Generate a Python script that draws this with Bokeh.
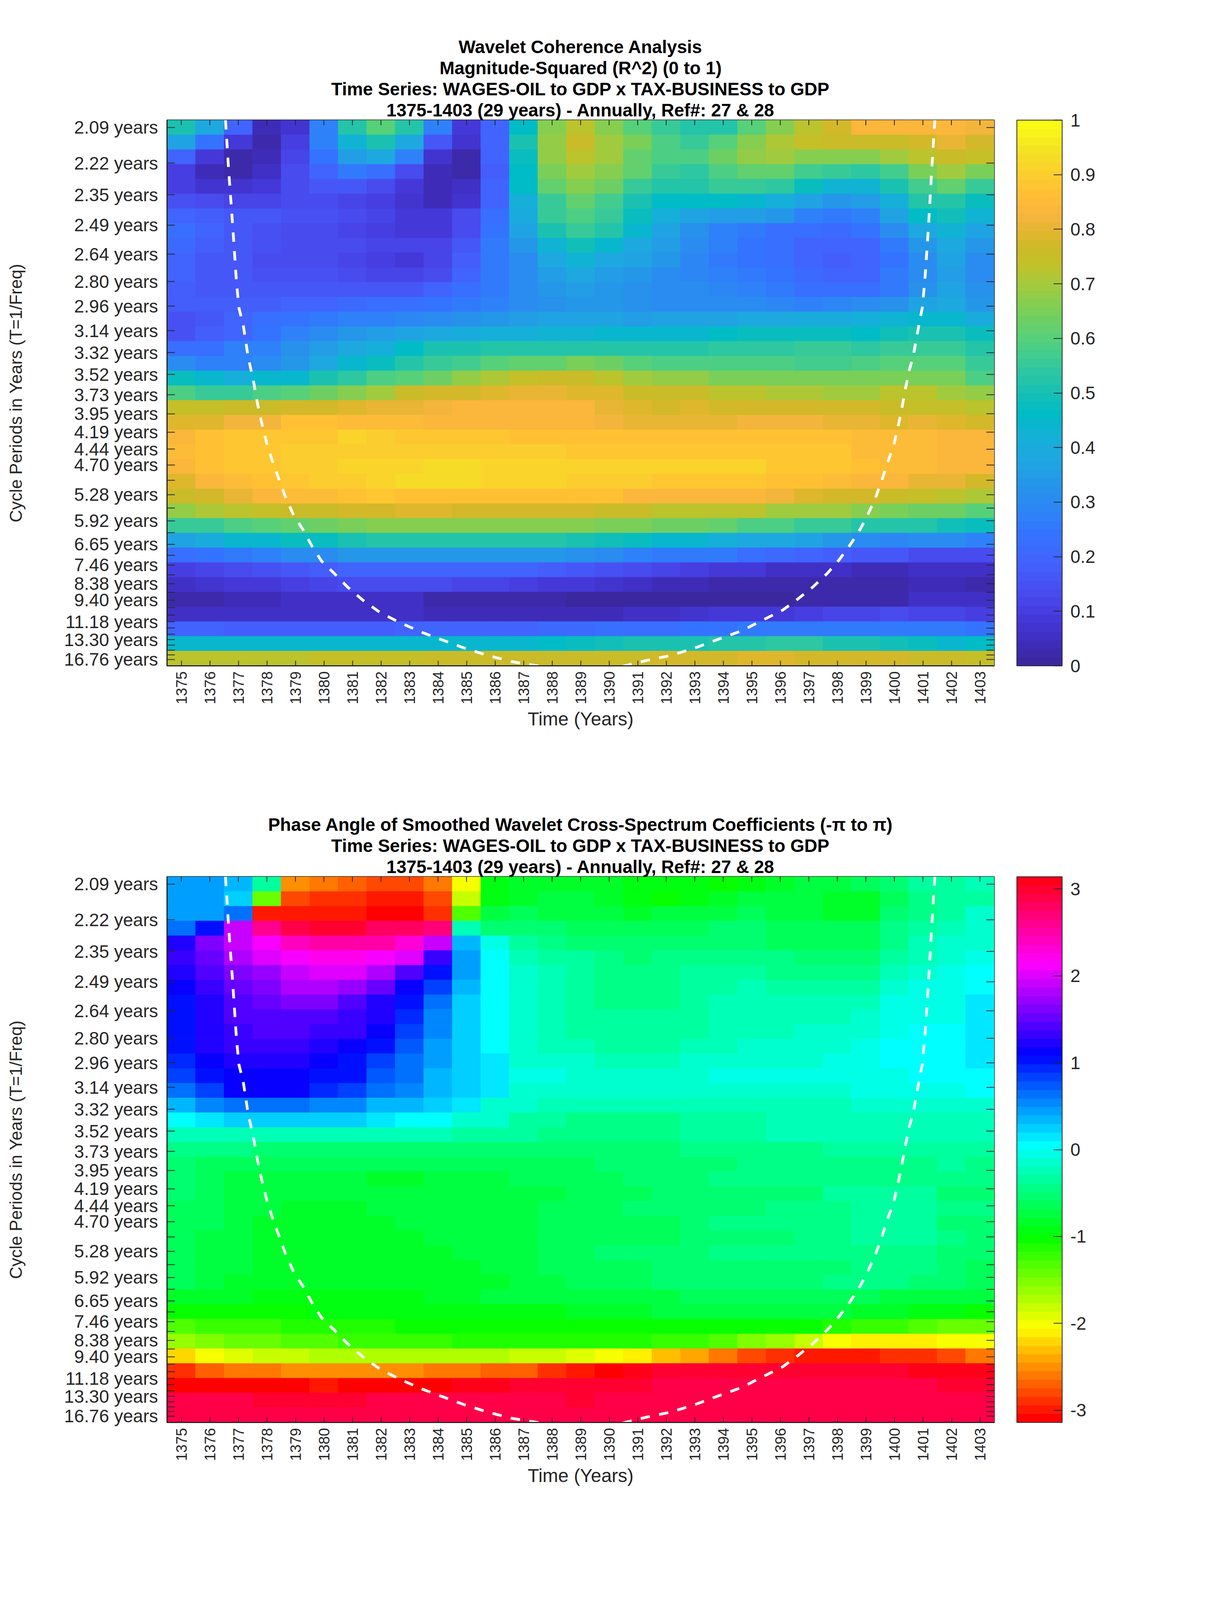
from bokeh.plotting import figure
from bokeh.models import (ColumnDataSource, LinearColorMapper, ColorBar, FixedTicker, Range1d, Title)
from bokeh.layouts import column
from bokeh.transform import transform
from bokeh.embed import file_html
from bokeh.resources import INLINE
import math, colorsys

years = list(range(1375, 1404))
periods = ["2.09","2.22","2.35","2.49","2.64","2.80","2.96","3.14","3.32","3.52","3.73","3.95","4.19","4.44","4.70","4.98","5.28","5.59","5.92","6.27","6.65","7.05","7.46","7.91","8.38","8.88","9.40","9.96","10.56","11.18","11.85","12.55","13.30","14.09","14.93","15.82","16.76"]
unlabelled = {"4.98","5.59","6.27","7.05","7.91","8.88","9.96","10.56","11.85","12.55","14.09","14.93","15.82"}

r2_rows = [
[.5,.38,.2,.04,.07,.27,.52,.6,.52,.27,.09,.2,.46,.66,.72,.67,.6,.55,.52,.53,.6,.66,.73,.78,.83,.84,.84,.83,.82],
[.37,.24,.08,.02,.1,.28,.43,.5,.38,.17,.07,.19,.5,.68,.75,.7,.65,.59,.56,.6,.67,.71,.74,.75,.75,.76,.78,.8,.78],
[.2,.08,.02,.04,.12,.24,.35,.38,.27,.07,.03,.19,.47,.68,.73,.69,.62,.59,.58,.63,.68,.69,.67,.67,.66,.7,.72,.75,.74],
[.1,.04,.02,.05,.14,.2,.25,.22,.14,.04,.03,.18,.46,.65,.69,.66,.61,.56,.54,.58,.62,.62,.57,.55,.54,.57,.65,.69,.65],
[.1,.07,.07,.08,.13,.16,.16,.13,.08,.04,.05,.19,.46,.62,.67,.63,.56,.53,.53,.55,.55,.54,.47,.43,.43,.5,.57,.61,.56],
[.15,.13,.12,.12,.13,.14,.12,.1,.07,.04,.07,.2,.41,.56,.61,.57,.51,.46,.46,.46,.44,.41,.36,.33,.35,.42,.52,.53,.48],
[.2,.18,.16,.16,.15,.15,.13,.11,.08,.08,.13,.22,.4,.55,.59,.55,.48,.41,.36,.35,.35,.33,.28,.25,.28,.36,.46,.49,.43],
[.23,.2,.17,.15,.14,.13,.12,.1,.09,.09,.14,.24,.36,.51,.55,.52,.45,.36,.32,.28,.26,.22,.22,.21,.24,.3,.38,.43,.37],
[.21,.18,.17,.15,.14,.14,.13,.11,.11,.12,.17,.25,.34,.43,.49,.45,.38,.35,.31,.27,.24,.22,.2,.19,.2,.25,.34,.38,.34],
[.19,.17,.16,.14,.14,.13,.12,.1,.09,.11,.18,.25,.3,.38,.43,.39,.37,.33,.29,.26,.24,.22,.19,.18,.2,.24,.31,.36,.31],
[.19,.17,.16,.15,.15,.15,.14,.12,.12,.14,.2,.25,.3,.35,.38,.35,.34,.31,.29,.27,.26,.24,.21,.19,.2,.25,.3,.35,.31],
[.18,.17,.16,.16,.16,.16,.16,.16,.16,.19,.22,.25,.3,.33,.35,.34,.32,.31,.3,.29,.27,.26,.23,.22,.22,.26,.32,.36,.32],
[.18,.18,.18,.18,.19,.2,.21,.22,.22,.24,.26,.28,.3,.32,.33,.33,.32,.31,.31,.3,.3,.29,.28,.29,.3,.32,.36,.38,.34],
[.15,.17,.2,.22,.24,.26,.27,.28,.29,.3,.32,.33,.35,.36,.37,.36,.35,.36,.36,.37,.38,.39,.4,.4,.41,.43,.44,.45,.4],
[.15,.18,.2,.24,.27,.3,.33,.35,.36,.38,.4,.41,.42,.43,.43,.44,.44,.45,.45,.46,.47,.47,.47,.47,.46,.49,.5,.51,.47],
[.22,.23,.27,.28,.32,.35,.38,.42,.46,.5,.51,.52,.52,.52,.52,.52,.52,.53,.53,.54,.54,.54,.55,.55,.54,.55,.56,.55,.52],
[.31,.27,.28,.31,.34,.39,.44,.47,.53,.56,.57,.6,.61,.62,.65,.63,.6,.59,.59,.58,.58,.58,.57,.57,.59,.6,.6,.6,.56],
[.47,.44,.42,.44,.45,.5,.54,.58,.6,.64,.68,.71,.74,.75,.75,.73,.7,.68,.68,.65,.65,.65,.65,.65,.65,.65,.65,.65,.59],
[.58,.56,.56,.59,.6,.64,.67,.7,.75,.77,.78,.79,.81,.81,.79,.79,.76,.75,.75,.73,.73,.71,.71,.7,.7,.72,.72,.7,.68],
[.74,.74,.75,.76,.78,.78,.79,.8,.81,.82,.83,.83,.84,.84,.83,.8,.79,.78,.79,.77,.77,.77,.77,.77,.77,.76,.74,.74,.73],
[.79,.79,.82,.82,.86,.86,.85,.85,.85,.83,.83,.83,.83,.83,.83,.82,.81,.81,.81,.81,.82,.82,.82,.8,.8,.79,.8,.79,.77],
[.84,.86,.88,.88,.89,.89,.91,.9,.89,.89,.89,.88,.87,.87,.87,.87,.87,.87,.87,.87,.87,.87,.87,.87,.85,.85,.85,.83,.83],
[.85,.86,.88,.89,.905,.905,.905,.9,.9,.9,.9,.9,.9,.9,.89,.89,.89,.89,.89,.89,.89,.89,.89,.88,.85,.85,.85,.84,.84],
[.83,.86,.88,.89,.9,.905,.915,.915,.92,.925,.925,.92,.915,.915,.915,.91,.91,.91,.915,.915,.915,.89,.89,.88,.86,.85,.85,.83,.83],
[.79,.83,.85,.87,.88,.9,.905,.915,.925,.93,.925,.91,.91,.91,.9,.9,.9,.89,.89,.89,.89,.87,.86,.85,.84,.84,.81,.8,.77],
[.75,.77,.8,.83,.85,.85,.87,.88,.87,.87,.87,.87,.86,.86,.86,.86,.84,.84,.84,.83,.83,.82,.79,.77,.77,.76,.74,.73,.71],
[.68,.71,.72,.74,.75,.76,.77,.78,.79,.79,.78,.77,.77,.77,.77,.75,.75,.73,.73,.73,.72,.7,.7,.69,.67,.65,.63,.63,.6],
[.56,.55,.58,.6,.62,.63,.65,.66,.67,.67,.67,.67,.67,.67,.66,.65,.65,.64,.63,.61,.58,.58,.56,.55,.53,.53,.52,.49,.47],
[.37,.4,.44,.45,.47,.48,.51,.52,.53,.53,.53,.53,.52,.52,.51,.49,.47,.45,.45,.42,.38,.38,.36,.33,.3,.29,.3,.3,.28],
[.23,.24,.26,.28,.3,.31,.33,.34,.34,.34,.34,.33,.33,.33,.32,.3,.28,.26,.26,.25,.22,.21,.2,.18,.16,.16,.14,.14,.13],
[.1,.12,.14,.15,.17,.18,.19,.2,.2,.2,.2,.2,.2,.18,.16,.15,.14,.11,.1,.09,.08,.06,.06,.05,.04,.04,.05,.05,.05],
[.05,.07,.08,.09,.1,.12,.13,.13,.13,.13,.12,.12,.1,.09,.09,.07,.06,.04,.04,.03,.02,.02,.03,.02,.02,.02,.04,.04,.03],
[.02,.02,.04,.04,.05,.05,.05,.05,.05,.03,.03,.03,.02,.02,.01,.01,.01,.01,.01,.01,.01,.01,.03,.03,.03,.03,.05,.05,.05],
[.05,.05,.05,.05,.05,.06,.06,.06,.06,.04,.04,.04,.04,.04,.04,.04,.05,.06,.07,.08,.08,.09,.1,.11,.12,.13,.12,.11,.1],
[.2,.19,.18,.18,.18,.18,.18,.18,.19,.19,.19,.2,.2,.21,.21,.22,.23,.23,.24,.24,.25,.26,.26,.26,.26,.26,.26,.25,.24],
[.44,.44,.44,.44,.44,.44,.44,.45,.45,.45,.45,.45,.45,.46,.47,.49,.5,.51,.51,.52,.52,.54,.54,.51,.5,.49,.48,.45,.46],
[.72,.73,.73,.73,.73,.74,.74,.74,.74,.75,.76,.76,.76,.76,.76,.76,.76,.77,.77,.78,.79,.79,.78,.78,.78,.78,.76,.75,.74],
]

phase_rows = [
[.4,.4,.3,-.3,-2.46,-2.62,-2.72,-2.83,-2.83,-2.62,-1.97,-.95,-.85,-.85,-.85,-.85,-.9,-.95,-.98,-1.0,-.95,-.8,-.78,-.75,-.62,-.55,-.38,-.3,-.22],
[.4,.4,.2,-1.42,-2.75,-2.88,-2.88,-2.95,-2.95,-2.78,-1.8,-.95,-.85,-.75,-.78,-.85,-.92,-1.0,-.95,-.85,-.75,-.72,-.78,-.85,-.8,-.6,-.42,-.35,-.3],
[.4,.4,.66,-3.02,-3.02,-3.02,-3.02,-3.12,-3.12,-2.93,-1.3,-.78,-.65,-.7,-.72,-.78,-.8,-.78,-.75,-.7,-.6,-.7,-.75,-.8,-.8,-.5,-.4,-.3,-.18],
[.65,1.05,1.87,2.65,2.88,2.95,2.95,2.82,2.82,2.72,-.25,-.5,-.55,-.58,-.6,-.65,-.67,-.65,-.6,-.55,-.55,-.6,-.68,-.68,-.65,-.45,-.35,-.28,-.15],
[1.2,1.6,1.96,2.15,2.4,2.5,2.55,2.55,2.35,1.9,.35,-.05,-.3,-.42,-.55,-.55,-.55,-.55,-.52,-.52,-.5,-.6,-.62,-.65,-.62,-.4,-.25,-.18,-.1],
[1.35,1.55,1.8,2.0,2.1,2.2,2.2,2.15,2.0,1.3,.4,0,-.2,-.3,-.38,-.48,-.5,-.42,-.42,-.42,-.42,-.48,-.52,-.58,-.55,-.36,-.2,-.1,-.02],
[1.25,1.4,1.6,1.75,1.95,2.05,2.05,1.8,1.45,1.0,.45,.02,-.18,-.28,-.35,-.45,-.45,-.4,-.38,-.32,-.3,-.45,-.48,-.45,-.4,-.28,-.1,-.05,0],
[1.15,1.3,1.5,1.65,1.85,1.85,1.7,1.55,1.15,.85,.3,.02,-.15,-.25,-.32,-.42,-.45,-.42,-.38,-.3,-.28,-.35,-.38,-.38,-.3,-.12,-.05,-.03,.08],
[1.05,1.25,1.4,1.55,1.6,1.6,1.45,1.25,1.05,.62,.2,0,-.15,-.22,-.32,-.42,-.45,-.4,-.35,-.28,-.25,-.25,-.25,-.22,-.22,-.08,-.02,-.02,.12],
[1.05,1.25,1.38,1.45,1.45,1.45,1.35,1.2,.95,.55,.2,0,-.15,-.2,-.3,-.38,-.38,-.35,-.32,-.25,-.22,-.22,-.22,-.2,-.15,-.05,-.02,-.02,.12],
[1.05,1.22,1.35,1.42,1.42,1.35,1.3,1.1,.85,.52,.2,0,-.15,-.2,-.3,-.38,-.38,-.35,-.3,-.25,-.2,-.2,-.18,-.15,-.1,-.03,0,0,.12],
[1.02,1.2,1.3,1.35,1.32,1.25,1.15,1.02,.75,.48,.2,0,-.14,-.2,-.28,-.3,-.3,-.3,-.28,-.2,-.18,-.15,-.15,-.14,-.06,0,0,0,.12],
[.95,1.15,1.2,1.2,1.2,1.12,1.05,.85,.68,.45,.27,.12,-.1,-.15,-.18,-.22,-.22,-.22,-.18,-.18,-.18,-.14,-.14,-.08,-.02,0,0,0,.1],
[.8,1.0,1.1,1.1,1.1,1.03,1.03,.75,.62,.38,.28,.1,-.02,-.05,-.15,-.15,-.15,-.15,-.12,-.08,-.08,-.08,-.08,-.06,-.06,-.02,0,0,0],
[.63,.8,1.08,1.08,1.08,.92,.8,.68,.5,.38,.2,.12,-.1,-.12,-.15,-.18,-.18,-.18,-.18,-.12,-.12,-.12,-.12,-.12,-.08,-.08,-.08,-.05,0],
[.35,.5,.62,.68,.68,.58,.5,.38,.3,.22,.12,-.1,-.15,-.2,-.2,-.25,-.28,-.28,-.28,-.25,-.25,-.25,-.25,-.22,-.18,-.12,-.12,-.12,-.1],
[0,.12,.2,.2,.2,.2,.2,.1,0,0,-.1,-.18,-.3,-.38,-.4,-.42,-.42,-.42,-.35,-.32,-.3,-.28,-.28,-.28,-.25,-.25,-.25,-.25,-.22],
[-.2,-.2,-.2,-.22,-.22,-.22,-.22,-.22,-.28,-.28,-.3,-.3,-.35,-.4,-.42,-.42,-.42,-.42,-.38,-.38,-.35,-.28,-.28,-.28,-.28,-.25,-.2,-.2,-.22],
[-.42,-.42,-.45,-.5,-.52,-.5,-.5,-.5,-.5,-.52,-.5,-.5,-.55,-.58,-.58,-.58,-.58,-.55,-.48,-.48,-.45,-.45,-.45,-.35,-.35,-.33,-.33,-.33,-.33],
[-.5,-.6,-.62,-.63,-.65,-.65,-.65,-.65,-.65,-.65,-.65,-.65,-.65,-.65,-.62,-.58,-.55,-.55,-.52,-.5,-.45,-.45,-.42,-.42,-.42,-.42,-.4,-.38,-.4],
[-.55,-.62,-.72,-.75,-.75,-.75,-.78,-.8,-.8,-.78,-.78,-.75,-.68,-.68,-.65,-.62,-.55,-.5,-.5,-.48,-.42,-.42,-.42,-.42,-.42,-.42,-.42,-.42,-.42],
[-.55,-.65,-.7,-.75,-.75,-.78,-.78,-.78,-.78,-.75,-.75,-.75,-.75,-.7,-.62,-.6,-.6,-.52,-.52,-.52,-.52,-.5,-.5,-.38,-.38,-.38,-.36,-.5,-.5],
[-.6,-.68,-.72,-.78,-.82,-.82,-.82,-.78,-.75,-.75,-.75,-.72,-.72,-.65,-.62,-.6,-.55,-.52,-.52,-.5,-.5,-.48,-.48,-.48,-.35,-.35,-.35,-.45,-.48],
[-.62,-.68,-.75,-.8,-.85,-.85,-.85,-.82,-.75,-.72,-.72,-.72,-.72,-.68,-.65,-.62,-.6,-.6,-.52,-.48,-.48,-.48,-.48,-.48,-.38,-.36,-.36,-.5,-.5],
[-.62,-.7,-.75,-.82,-.85,-.85,-.85,-.82,-.8,-.75,-.7,-.72,-.72,-.68,-.62,-.6,-.6,-.6,-.52,-.5,-.5,-.5,-.48,-.48,-.35,-.36,-.36,-.48,-.5],
[-.62,-.7,-.78,-.82,-.85,-.85,-.85,-.85,-.85,-.82,-.72,-.7,-.7,-.65,-.62,-.58,-.58,-.58,-.5,-.48,-.48,-.48,-.48,-.48,-.45,-.45,-.45,-.5,-.52],
[-.6,-.72,-.78,-.82,-.85,-.85,-.85,-.85,-.85,-.82,-.82,-.72,-.72,-.68,-.65,-.62,-.62,-.58,-.58,-.55,-.55,-.55,-.52,-.52,-.48,-.48,-.48,-.5,-.62],
[-.65,-.72,-.82,-.85,-.85,-.85,-.82,-.82,-.85,-.85,-.85,-.82,-.75,-.72,-.68,-.68,-.62,-.58,-.55,-.55,-.55,-.55,-.52,-.48,-.48,-.48,-.5,-.55,-.65],
[-.8,-.85,-.88,-.92,-.92,-.92,-.9,-.9,-.9,-.85,-.82,-.78,-.78,-.78,-.75,-.7,-.7,-.7,-.68,-.65,-.65,-.62,-.62,-.62,-.62,-.7,-.72,-.72,-.75],
[-1.02,-1.02,-1.02,-1.02,-1.0,-.98,-.98,-.98,-.98,-.9,-.9,-.9,-.9,-.9,-.85,-.82,-.8,-.78,-.78,-.78,-.78,-.78,-.78,-.78,-.8,-.85,-.9,-.98,-1.0],
[-1.3,-1.22,-1.22,-1.22,-1.15,-1.12,-1.12,-1.12,-1.05,-1.05,-1.05,-1.05,-1.05,-1.05,-1.05,-1.05,-1.03,-1.03,-1.03,-1.02,-1.03,-1.05,-1.05,-1.12,-1.2,-1.25,-1.35,-1.42,-1.42],
[-1.65,-1.55,-1.45,-1.45,-1.35,-1.35,-1.25,-1.22,-1.22,-1.22,-1.15,-1.15,-1.12,-1.1,-1.1,-1.1,-1.15,-1.2,-1.2,-1.35,-1.5,-1.65,-1.85,-2.0,-2.15,-2.15,-2.15,-2.0,-2.0],
[-2.2,-2.05,-1.92,-1.82,-1.82,-1.72,-1.72,-1.68,-1.68,-1.68,-1.68,-1.68,-1.78,-1.78,-1.9,-2.0,-2.15,-2.35,-2.45,-2.62,-2.75,-2.88,-2.95,-2.95,-2.95,-2.85,-2.85,-2.75,-2.65],
[-2.85,-2.72,-2.6,-2.6,-2.52,-2.52,-2.52,-2.52,-2.52,-2.6,-2.6,-2.7,-2.7,-2.85,-3.0,-3.05,3.14,3.0,3.0,2.95,2.95,2.95,2.95,2.95,2.98,3.02,3.1,3.14,3.14],
[-3.1,-3.1,-3.1,-3.1,-3.1,-3.0,-3.1,-3.12,-3.12,-3.12,3.14,3.05,3.02,3.02,2.95,2.95,2.95,2.85,2.85,2.85,2.85,2.85,2.85,2.85,2.85,2.85,2.9,2.95,2.95],
[2.92,2.92,2.92,3.02,3.02,3.02,3.02,2.92,2.92,2.92,2.92,2.92,2.92,2.92,2.95,2.88,2.88,2.85,2.85,2.85,2.85,2.85,2.85,2.85,2.85,2.85,2.85,2.85,2.85],
[2.9,2.9,2.9,2.9,2.9,2.9,2.9,2.9,2.9,2.9,2.9,2.9,2.88,2.85,2.85,2.85,2.85,2.85,2.85,2.85,2.85,2.85,2.85,2.85,2.85,2.85,2.85,2.85,2.85],
]

coi_years = [1376.55,1376.66,1376.80,1376.93,1377.02,1377.18,1377.34,1377.54,1377.68,1377.81,1378.00,1378.22,1378.44,1378.66,1378.93,1379.26,1379.59,1379.92,1380.36,1380.82,1381.37,1381.97,1382.65,1383.42,1384.10,1384.92,1385.74,1386.56,1387.52,1387.8,
             1390.26,1390.53,1391.35,1392.17,1393.0,1393.81,1394.64,1395.32,1396.09,1396.61,1397.15,1397.65,1398.06,1398.47,1398.80,1399.07,1399.34,1399.56,1399.75,1399.97,1400.11,1400.24,1400.38,1400.52,1400.66,1400.85,1400.98,1401.07,1401.20,1401.31,1401.42]
coi_periods = [2.065,2.247,2.489,2.791,2.971,3.108,3.352,3.602,3.842,4.052,4.357,4.671,4.985,5.345,5.757,6.169,6.729,7.294,7.843,8.554,9.407,10.35,11.25,12.32,13.25,14.56,15.90,17.21,18.32,18.8,
               18.8,18.32,16.92,15.90,14.56,13.25,12.17,11.12,10.14,9.33,8.554,7.843,7.246,6.64,6.169,5.757,5.345,4.985,4.671,4.394,4.148,3.929,3.678,3.481,3.352,3.108,2.971,2.791,2.489,2.247,2.065]

titles1 = ["Wavelet Coherence Analysis","Magnitude-Squared (R^2) (0 to 1)","Time Series: WAGES-OIL to GDP x TAX-BUSINESS to GDP","1375-1403 (29 years) - Annually, Ref#: 27 & 28"]
titles2 = ["Phase Angle of Smoothed Wavelet Cross-Spectrum Coefficients (-\u03c0 to \u03c0)","Time Series: WAGES-OIL to GDP x TAX-BUSINESS to GDP","1375-1403 (29 years) - Annually, Ref#: 27 & 28"]
cbar1_ticks = [0,.1,.2,.3,.4,.5,.6,.7,.8,.9,1]
cbar2_ticks = [-3,-2,-1,0,1,2,3]
xlabel = "Time (Years)"
ylabel = "Cycle Periods in Years (T=1/Freq)"

bad = [(n,i,len(r)) for n,m in (("r2",r2_rows),("ph",phase_rows)) for i,r in enumerate(m) if len(r)!=29]
assert not bad and len(r2_rows)==37 and len(phase_rows)==37 and len(coi_years)==len(coi_periods), (bad,len(r2_rows),len(phase_rows),len(coi_years),len(coi_periods))

FONT = "Liberation Sans"
INK = "#262626"
F_TOP, F_BOTTOM = 0.4843, 0.0547
FW, FH = 2117, 1397
TICK_X, TICK_Y = 20, 13   # inward tick lengths along the horizontal and vertical

ramp = [(0,"#3b289f"),(.02,"#3d2aad"),(.05,"#4030c8"),(.08,"#4438d8"),(.12,"#4848ec"),(.16,"#4658f8"),(.2,"#3e68ff"),(.24,"#3374ff"),(.28,"#2d85f7"),(.32,"#2792ea"),(.38,"#1ea8e0"),(.42,"#14b0d8"),(.46,"#00bcc6"),(.5,"#17bfb4"),(.55,"#33c99c"),(.6,"#55d07c"),(.65,"#78cf58"),(.7,"#a2cb3e"),(.74,"#c3c028"),(.77,"#cdb929"),(.8,"#e3b62e"),(.82,"#f0b43a"),(.84,"#fbb63c"),(.87,"#ffc033"),(.9,"#fdcb30"),(.95,"#f5e224"),(1,"#f9fb14")]
def rgb(h): return [int(h[i:i+2],16) for i in (1,3,5)]
def sample(t):
    for (a,ca),(b,cb) in zip(ramp,ramp[1:]):
        if t<=b:
            u=(t-a)/(b-a); A,B=rgb(ca),rgb(cb)
            return "#%02x%02x%02x"%tuple(round(A[i]+(B[i]-A[i])*u) for i in range(3))
    return ramp[-1][1]
parula64 = [sample(i/63) for i in range(64)]
hsv64 = ["#%02x%02x%02x"%tuple(round(c*255) for c in colorsys.hsv_to_rgb(i/64,1,1)) for i in range(64)]

def chart(rows, titles, palette, low, high, cticks, clabels, top_border, bottom_border):
    mapper = LinearColorMapper(palette=palette, low=low, high=high)
    x0, x1 = years[0]-.5, years[-1]+.5
    p = figure(width=427+FW+569, height=top_border+FH+bottom_border, frame_width=FW, frame_height=FH, output_backend="svg", toolbar_location=None,
               x_range=Range1d(x0, x1), y_range=Range1d(F_BOTTOM, F_TOP),
               min_border_left=427, min_border_right=569, min_border_top=top_border, min_border_bottom=bottom_border,
               background_fill_color="white", outline_line_color=INK, outline_line_width=3)
    p.grid.visible = False
    dh = (F_TOP-F_BOTTOM)/len(rows)
    L,R,T,B,V = [],[],[],[],[]
    for i,row in enumerate(rows):
        for y,v in zip(years,row):
            L.append(y-.5); R.append(y+.5); T.append(F_TOP-i*dh); B.append(F_TOP-(i+1)*dh); V.append(v)
    src = ColumnDataSource(dict(left=L,right=R,top=T,bottom=B,v=V))
    p.quad(left="left",right="right",top="top",bottom="bottom",source=src,
           fill_color=transform("v",mapper),line_color=transform("v",mapper),line_width=1)
    p.line(coi_years,[1/t for t in coi_periods],line_color="white",line_width=7,line_dash="24 24")

    yt = [1/float(t) for t in periods]
    ylabels = {1/float(t):("" if t in unlabelled else t+" years") for t in periods}
    xax = p.xaxis[0]; yax = p.yaxis[0]
    xax.ticker = FixedTicker(ticks=years); yax.ticker = FixedTicker(ticks=yt)
    yax.major_label_overrides = ylabels
    xax.major_label_orientation = math.pi/2
    xax.major_tick_in=TICK_Y; yax.major_tick_in=TICK_X
    for ax in (xax,yax):
        ax.major_tick_out=0; ax.minor_tick_line_color=None
        ax.major_tick_line_color=INK; ax.major_tick_line_width=2
        ax.axis_line_color=INK; ax.axis_line_width=3
        ax.major_label_text_font=FONT; ax.major_label_text_color=INK
        ax.axis_label_text_font=FONT; ax.axis_label_text_color=INK
        ax.axis_label_text_font_style="normal"
    xax.major_label_text_font_size="38px"; yax.major_label_text_font_size="46px"
    xax.axis_label_text_font_size="48px"; yax.axis_label_text_font_size="44px"
    xax.axis_label=xlabel; yax.axis_label=ylabel
    xax.major_label_standoff=14; yax.major_label_standoff=23
    xax.axis_label_standoff=8; yax.axis_label_standoff=96

    tx = TICK_X*(x1-x0)/FW; ty = TICK_Y*(F_TOP-F_BOTTOM)/FH
    p.segment(x0=years,x1=years,y0=[F_TOP]*len(years),y1=[F_TOP-ty]*len(years),line_color=INK,line_width=2)
    p.segment(x0=[x1]*len(yt),x1=[x1-tx]*len(yt),y0=yt,y1=yt,line_color=INK,line_width=2)

    for t in reversed(titles):
        p.add_layout(Title(text=t,align="center",text_font=FONT,text_font_size="46px",text_font_style="bold",text_color="black",
                           standoff=0),"above")

    cb = ColorBar(color_mapper=mapper, ticker=FixedTicker(ticks=cticks), major_label_overrides=clabels,
                  width=116, height=FH, padding=0, margin=0, location=(FW+58,0),
                  major_tick_in=22, major_tick_out=0, major_tick_line_color=INK, major_tick_line_width=2,
                  minor_tick_line_color=None, bar_line_color=INK, bar_line_width=2, border_line_color=None,
                  major_label_text_font=FONT, major_label_text_font_size="46px", major_label_text_color=INK,
                  label_standoff=21, background_fill_color=None)
    p.add_layout(cb)
    return p

lab1 = {t:("%g"%t) for t in cbar1_ticks}
lab2 = {t:str(t) for t in cbar2_ticks}
p1 = chart(r2_rows,titles1,parula64,0,1,cbar1_ticks,lab1,307,250)
p2 = chart(phase_rows,titles2,hsv64,-math.pi,math.pi,cbar2_ticks,lab2,290,250)
open("out.html","w").write(file_html(column(p1,p2),INLINE))
